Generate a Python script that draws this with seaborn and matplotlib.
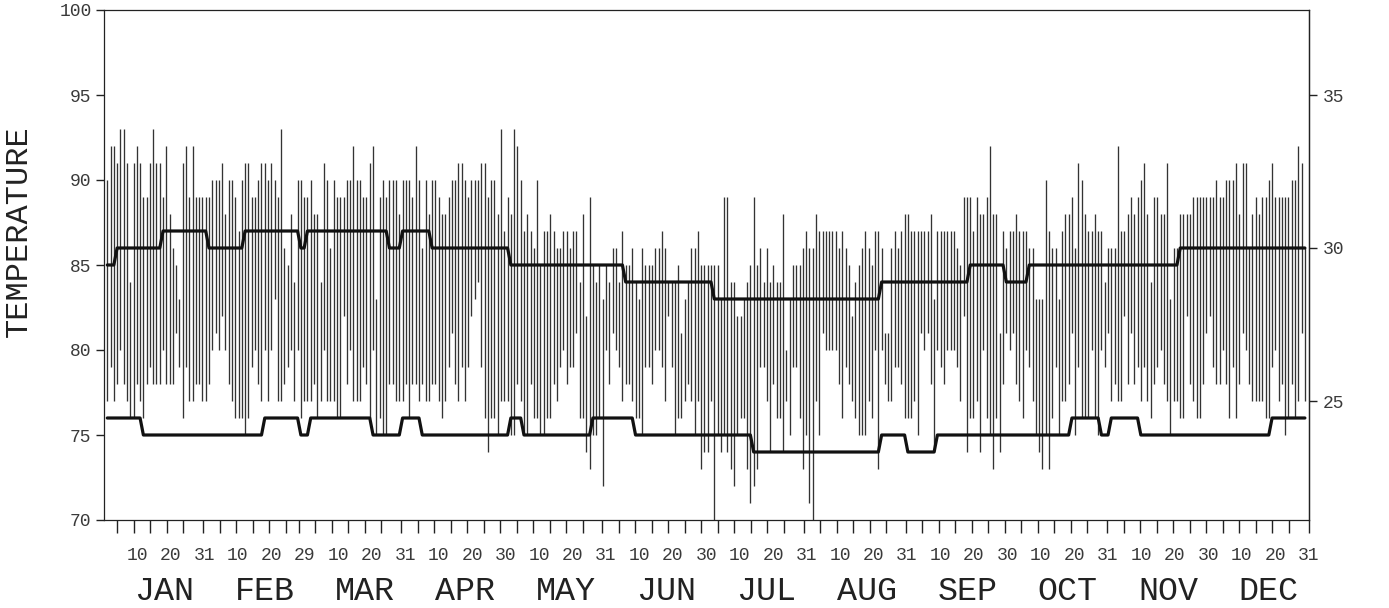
import numpy as np
import pandas as pd
import matplotlib
matplotlib.use("Agg")
import matplotlib.pyplot as plt
import seaborn as sns

# ---------------- data ----------------
MONTHS = ["JAN", "FEB", "MAR", "APR", "MAY", "JUN",
          "JUL", "AUG", "SEP", "OCT", "NOV", "DEC"]
MONTH_DAYS = [31, 29, 31, 30, 31, 30, 31, 31, 30, 31, 30, 31]
TICK_DAYS_IN_MONTH = [5, 10, 15, 20, 25]          # plus the last day of each month
LABEL_DAYS_IN_MONTH = [10, 20]                    # plus the last day of each month

# daily maximum / minimum temperature (deg F)
JAN_HI = [90, 92, 92, 91, 93, 93, 91, 84, 91, 92, 91, 89, 89, 91, 93, 91, 91, 89, 92, 88,
          86, 85, 83, 91, 92, 89, 92, 89, 89, 89, 89]
JAN_LO = [77, 79, 77, 78, 80, 78, 77, 76, 76, 78, 77, 76, 78, 79, 78, 78, 78, 80, 78, 78,
          78, 81, 79, 76, 79, 77, 77, 78, 78, 77, 77]
FEB_HI = [89, 90, 90, 90, 91, 88, 90, 90, 89, 87, 90, 91, 91, 89, 89, 90, 91, 91, 90, 91,
          90, 89, 93, 86, 85, 88, 84, 90, 90]
FEB_LO = [78, 80, 81, 80, 82, 80, 78, 77, 76, 76, 76, 75, 76, 79, 80, 78, 77, 80, 77, 80,
          83, 77, 77, 78, 79, 80, 77, 80, 76]
MAR_HI = [89, 89, 90, 88, 88, 84, 91, 90, 86, 90, 89, 89, 89, 90, 90, 92, 90, 90, 89, 89,
          91, 92, 83, 89, 90, 89, 90, 90, 90, 88, 90]
MAR_LO = [77, 77, 77, 78, 76, 77, 80, 77, 77, 77, 76, 76, 82, 78, 80, 77, 77, 77, 79, 78,
          76, 80, 75, 76, 75, 75, 78, 78, 77, 77, 77]
APR_HI = [90, 90, 89, 92, 90, 86, 90, 88, 90, 90, 89, 88, 88, 89, 90, 90, 91, 91, 90, 89,
          90, 90, 90, 91, 91, 89, 90, 90, 88, 93]
APR_LO = [78, 76, 78, 78, 77, 78, 77, 77, 78, 78, 77, 76, 77, 79, 81, 78, 77, 79, 77, 79,
          82, 83, 84, 79, 76, 74, 76, 76, 75, 77]
MAY_HI = [87, 89, 88, 93, 92, 90, 87, 88, 87, 86, 90, 85, 87, 87, 88, 87, 86, 86, 87, 87,
          86, 87, 87, 84, 88, 82, 89, 85, 84, 85, 83]
MAY_LO = [77, 77, 75, 75, 78, 77, 75, 75, 78, 76, 76, 75, 75, 76, 76, 78, 77, 79, 80, 78,
          79, 79, 81, 76, 76, 74, 73, 75, 75, 76, 72]
JUN_HI = [85, 84, 86, 86, 84, 87, 85, 85, 86, 84, 83, 86, 85, 85, 85, 86, 86, 87, 86, 84,
          84, 84, 85, 81, 83, 84, 86, 86, 87, 85]
JUN_LO = [80, 78, 81, 80, 79, 77, 78, 78, 77, 76, 76, 75, 79, 79, 78, 80, 80, 79, 77, 82,
          79, 75, 76, 76, 77, 78, 77, 75, 77, 73]
JUL_HI = [85, 85, 85, 85, 85, 83, 89, 89, 84, 84, 82, 82, 83, 84, 85, 89, 85, 86, 84, 86,
          84, 85, 84, 84, 88, 80, 83, 85, 85, 85, 86]
JUL_LO = [74, 74, 77, 70, 75, 74, 75, 74, 73, 72, 75, 76, 76, 73, 71, 72, 73, 79, 79, 77,
          74, 78, 76, 76, 74, 77, 75, 79, 79, 76, 73]
AUG_HI = [87, 86, 86, 88, 87, 87, 87, 87, 87, 87, 86, 87, 86, 85, 82, 84, 85, 86, 87, 86,
          85, 87, 87, 86, 81, 81, 86, 87, 86, 87, 88]
AUG_LO = [75, 71, 70, 77, 75, 81, 80, 80, 80, 80, 78, 76, 79, 78, 77, 76, 75, 75, 75, 77,
          76, 80, 73, 80, 78, 77, 77, 79, 79, 78, 76]
SEP_HI = [88, 87, 87, 87, 87, 87, 87, 88, 83, 87, 87, 87, 87, 87, 87, 86, 85, 89, 89, 89,
          87, 89, 88, 88, 89, 92, 88, 88, 81, 87]
SEP_LO = [76, 76, 77, 75, 81, 80, 81, 78, 74, 80, 79, 78, 80, 80, 80, 79, 77, 82, 74, 76,
          76, 77, 74, 80, 76, 75, 73, 76, 74, 78]
OCT_HI = [86, 87, 87, 88, 87, 87, 87, 86, 86, 83, 83, 83, 90, 87, 86, 86, 83, 87, 88, 88,
          89, 86, 91, 90, 88, 87, 87, 88, 87, 87, 84]
OCT_LO = [81, 80, 81, 78, 77, 76, 80, 79, 77, 75, 74, 73, 75, 73, 76, 79, 75, 77, 77, 78,
          81, 75, 79, 76, 76, 76, 80, 76, 75, 80, 79]
NOV_HI = [86, 86, 86, 92, 87, 87, 88, 89, 88, 89, 90, 91, 88, 84, 89, 89, 88, 88, 91, 83,
          86, 86, 88, 88, 88, 88, 89, 89, 89, 89]
NOV_LO = [81, 77, 78, 77, 77, 82, 78, 81, 78, 79, 77, 79, 77, 76, 78, 79, 80, 78, 77, 75,
          77, 77, 76, 76, 82, 78, 77, 76, 76, 78]
DEC_HI = [89, 89, 89, 90, 89, 89, 90, 90, 90, 91, 88, 91, 91, 86, 88, 89, 88, 89, 89, 90,
          91, 89, 89, 89, 89, 89, 90, 90, 92, 91, 86]
DEC_LO = [81, 82, 79, 78, 78, 80, 78, 76, 79, 76, 78, 81, 80, 78, 77, 77, 77, 77, 76, 76,
          79, 80, 77, 78, 75, 76, 78, 76, 77, 81, 77]

# normal high / low as runs: (first day of the run, value in deg F)
NORMAL_HI_START = [1, 4, 18, 32, 43, 60, 62, 87, 91, 100, 124, 159, 186, 237, 264, 275, 282, 328]
NORMAL_HI_VALUE = [85, 86, 87, 86, 87, 86, 87, 86, 87, 86, 85, 84, 83, 84, 85, 84, 85, 86]
NORMAL_LO_START = [1, 12, 49, 60, 63, 82, 91, 97, 124, 128, 149, 162, 198, 237, 245, 254,
                   295, 304, 307, 316, 356]
NORMAL_LO_VALUE = [76, 75, 76, 75, 76, 75, 76, 75, 76, 75, 76, 75, 74, 75, 74, 75,
                   76, 75, 76, 75, 76]

Y_TICKS_F = [70, 75, 80, 85, 90, 95, 100]
Y_TICKS_C = [25, 30, 35]

# ---------------- assemble ----------------
highs = np.concatenate([JAN_HI, FEB_HI, MAR_HI, APR_HI, MAY_HI, JUN_HI,
                        JUL_HI, AUG_HI, SEP_HI, OCT_HI, NOV_HI, DEC_HI])
lows = np.concatenate([JAN_LO, FEB_LO, MAR_LO, APR_LO, MAY_LO, JUN_LO,
                       JUL_LO, AUG_LO, SEP_LO, OCT_LO, NOV_LO, DEC_LO])
n_days = len(highs)
days = np.arange(1, n_days + 1)


def expand_runs(starts, values, total):
    lengths = np.diff(list(starts) + [total + 1])
    return np.repeat(values, lengths)


df = pd.DataFrame({
    "day": days,
    "high": highs,
    "low": lows,
    "normal_high": expand_runs(NORMAL_HI_START, NORMAL_HI_VALUE, n_days),
    "normal_low": expand_runs(NORMAL_LO_START, NORMAL_LO_VALUE, n_days),
})

# ---------------- style ----------------
sns.set_theme(style="ticks")
MONO = ["Liberation Mono", "DejaVu Sans Mono"]
plt.rcParams["font.family"] = MONO
TXT = "#3a3a3a"
INK = "#222222"

W, H = 1389, 608
fig = plt.figure(figsize=(W / 100, H / 100), dpi=100)
ax = fig.add_axes([104 / W, 88 / H, 1204.5 / W, 510 / H])

XMAX = n_days + 1.1

ax.vlines(df["day"], df["low"], df["high"], color="#333333", lw=0.95, zorder=2)
sns.lineplot(data=df, x="day", y="normal_high", ax=ax, color="#111111", lw=2.3, zorder=3)
sns.lineplot(data=df, x="day", y="normal_low", ax=ax, color="#111111", lw=2.3, zorder=3)

ax.set_xlim(0, XMAX)
ax.set_ylim(70, 100)
ax.set_xlabel("")
ax.set_ylabel("")

# x ticks every 5 days plus month end
tick_days = []
cum = 0
for n in MONTH_DAYS:
    for t in TICK_DAYS_IN_MONTH + [n]:
        tick_days.append(cum + t)
    cum += n
tick_pos = (np.array(tick_days) - 1) * XMAX / (n_days - 1)
ax.set_xticks(tick_pos)
ax.tick_params(axis="x", direction="out", length=9, width=1.0, color=INK,
               labelbottom=False)

ax.set_yticks(Y_TICKS_F)
ax.tick_params(axis="y", direction="out", length=6, width=1.0, color=INK,
               pad=3, labelsize=13, labelcolor=TXT)

sec = ax.secondary_yaxis("right", functions=(lambda f: (f - 32) * 5 / 9,
                                             lambda c: c * 9 / 5 + 32))
sec.set_yticks(Y_TICKS_C)
sec.tick_params(direction="out", length=6, width=1.0, color=INK,
                pad=4, labelsize=13, labelcolor=TXT)
for s in sec.spines.values():
    s.set_linewidth(0.9)
    s.set_color(INK)

for s in ax.spines.values():
    s.set_visible(True)
    s.set_linewidth(0.9)
    s.set_color(INK)

# day-number labels (evenly spaced row) and month names
day_labels = []
for n in MONTH_DAYS:
    day_labels += [str(d) for d in LABEL_DAYS_IN_MONTH] + [str(n)]
n_lab = len(day_labels)
for k, lab in enumerate(day_labels):
    ax.text((k + 1) / n_lab, -35 / 510, lab, transform=ax.transAxes,
            ha="center", va="center", fontsize=13, color=TXT, family=MONO)

for k, m in enumerate(MONTHS):
    ax.text((k + 0.6) / len(MONTHS), -71 / 510, m, transform=ax.transAxes,
            ha="center", va="center", fontsize=24, color=INK, family=MONO)

fig.text(19 / W, 1 - 231 / H, "TEMPERATURE", rotation=90, ha="center", va="center",
         fontsize=23, color=INK, family=MONO)

fig.savefig("out.png", dpi=100)
